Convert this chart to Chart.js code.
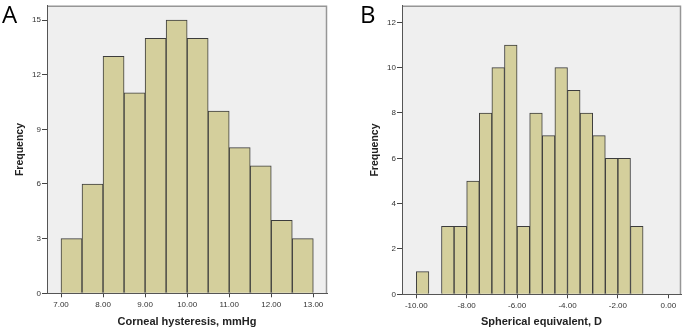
<!DOCTYPE html>
<html>
<head>
<meta charset="utf-8">
<script src="https://cdn.jsdelivr.net/npm/chart.js@4/dist/chart.umd.min.js"></script>
<style>
  body { margin: 0; background: #fff; }
  #wrap { position: relative; width: 685px; height: 330px; overflow: hidden; }
  .panel { position: absolute; top: 0; height: 330px; }
  .tag { position: absolute; top: 2px; font-family: "Open Sans", sans-serif; font-size: 24px; line-height: 24px; color: #000; z-index: 2; }
</style>
</head>
<body>
<div id="wrap">
  <div class="panel" style="left:0;width:340px"><canvas id="chartA"></canvas></div>
  <div class="panel" style="left:340px;width:345px"><canvas id="chartB"></canvas></div>
  <div class="tag" style="left:2px">A</div>
  <div class="tag" style="left:360px">B</div>
</div>
<script>
// Panel A: corneal hysteresis, bins of 0.5 mmHg
const chBinStarts = [7.0, 7.5, 8.0, 8.5, 9.0, 9.5, 10.0, 10.5, 11.0, 11.5, 12.0, 12.5]
const chCounts = [3, 6, 13, 11, 14, 15, 14, 10, 8, 7, 4, 3]
const chXTicks = [7, 8, 9, 10, 11, 12, 13]
const chXLabels = ['7.00', '8.00', '9.00', '10.00', '11.00', '12.00', '13.00']
const chYTicks = [0, 3, 6, 9, 12, 15]

// Panel B: spherical equivalent, bins of 0.5 D
const seBinStarts = [-10.0, -9.5, -9.0, -8.5, -8.0, -7.5, -7.0, -6.5, -6.0, -5.5, -5.0, -4.5, -4.0, -3.5, -3.0, -2.5, -2.0, -1.5]
const seCounts = [1, 0, 3, 3, 5, 8, 10, 11, 3, 8, 7, 10, 9, 8, 7, 6, 6, 3]
const seXTicks = [-10, -8, -6, -4, -2, 0]
const seXLabels = ['-10.00', '-8.00', '-6.00', '-4.00', '-2.00', '0.00']
const seYTicks = [0, 2, 4, 6, 8, 10, 12]

const BIN_WIDTH = 0.5

// gray plot background with a thin frame on top and right
const frameBg = {
  id: 'frameBg',
  beforeDraw(chart) {
    const { ctx, chartArea: a } = chart
    ctx.save()
    ctx.fillStyle = '#efefef'
    ctx.fillRect(a.left, a.top, a.right - a.left, a.bottom - a.top)
    ctx.strokeStyle = '#969696'
    ctx.lineWidth = 1.5
    ctx.beginPath()
    ctx.moveTo(a.left, a.top + 0.5)
    ctx.lineTo(a.right - 0.5, a.top + 0.5)
    ctx.lineTo(a.right - 0.5, a.bottom)
    ctx.stroke()
    ctx.restore()
  }
}

function makeHistogram(canvasId, cfg) {
  const points = cfg.starts.map((s, i) => ({ x: s + BIN_WIDTH / 2, y: cfg.counts[i] }))
  const tickFont = { family: '"Liberation Sans", Arial, sans-serif', size: 8 }
  const titleFont = { family: '"Liberation Sans", Arial, sans-serif', weight: 'bold' }

  return new Chart(document.getElementById(canvasId), {
    type: 'bar',
    data: {
      datasets: [{
        data: points,
        backgroundColor: '#d4cf9c',
        borderColor: '#3c3c3c',
        borderWidth: 1,
        borderSkipped: 'start',
        barPercentage: 1,
        categoryPercentage: 1,
      }]
    },
    options: {
      responsive: true,
      maintainAspectRatio: false,
      animation: false,
      layout: { padding: cfg.padding },
      plugins: { legend: { display: false }, tooltip: { enabled: false } },
      scales: {
        x: {
          type: 'linear',
          offset: false,
          min: cfg.xMin,
          max: cfg.xMax,
          afterBuildTicks: (scale) => { scale.ticks = cfg.xTicks.map(v => ({ value: v })) },
          afterFit: (scale) => { scale.height = cfg.xAxisHeight },
          ticks: {
            autoSkip: false,
            maxRotation: 0,
            padding: 3,
            color: '#333',
            font: tickFont,
            callback: (v) => cfg.xLabels[cfg.xTicks.indexOf(v)],
          },
          grid: { offset: false, drawOnChartArea: false, drawTicks: true, tickLength: 4, tickColor: '#444' },
          border: { color: '#555', width: 1 },
          title: {
            display: true,
            text: cfg.xTitle,
            color: '#222',
            font: { ...titleFont, size: 11 },
            padding: { top: 0, bottom: 1 },
          },
        },
        y: {
          min: 0,
          max: cfg.yMax,
          afterBuildTicks: (scale) => { scale.ticks = cfg.yTicks.map(v => ({ value: v })) },
          afterFit: (scale) => { scale.width = cfg.yAxisWidth },
          ticks: { padding: 1, color: '#333', font: tickFont },
          grid: { drawOnChartArea: false, drawTicks: true, tickLength: 5, tickColor: '#444' },
          border: { color: '#555', width: 1 },
          title: {
            display: true,
            text: 'Frequency',
            color: '#222',
            font: { ...titleFont, size: 10.5 },
            padding: { top: cfg.yTitlePad, bottom: 0 },
          },
        },
      },
    },
    plugins: [frameBg],
  })
}

makeHistogram('chartA', {
  starts: chBinStarts, counts: chCounts,
  xTicks: chXTicks, xLabels: chXLabels, yTicks: chYTicks,
  xMin: 6.667, xMax: 13.326, yMax: 15.78,
  xTitle: 'Corneal hysteresis, mmHg',
  padding: { top: 1.5, right: 13, left: 0, bottom: 0 },
  yAxisWidth: 47, xAxisHeight: 36.7, yTitlePad: 13.4,
})

makeHistogram('chartB', {
  starts: seBinStarts, counts: seCounts,
  xTicks: seXTicks, xLabels: seXLabels, yTicks: seYTicks,
  xMin: -10.567, xMax: 0.504, yMax: 12.73,
  xTitle: 'Spherical equivalent, D',
  padding: { top: 1.5, right: 4, left: 0, bottom: 0 },
  yAxisWidth: 62, xAxisHeight: 35.7, yTitlePad: 28.4,
})
</script>
</body>
</html>
